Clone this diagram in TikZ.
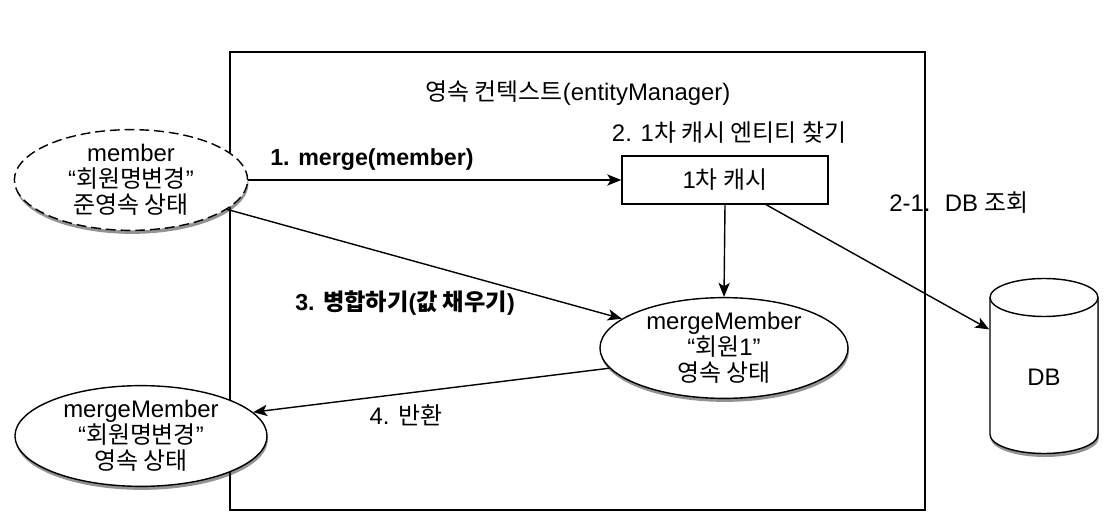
\documentclass[tikz,border=0pt]{standalone}
\usepackage{fontspec}
\setmainfont{Liberation Sans}
\newfontfamily\krfont{Noto Sans CJK KR}
\newcommand{\kr}[1]{{\krfont #1}}
\usetikzlibrary{arrows.meta,shapes.geometric,shadows}

\begin{document}
\begin{tikzpicture}[x=0.025cm, y=-0.025cm, line width=1pt,
  every node/.style={font=\fontsize{17}{18.5}\selectfont},
  boldlabel/.style={font=\fontsize{16.5}{18.5}\selectfont\bfseries},
  arr/.style={-{Stealth[length=10pt,width=8pt,inset=2.5pt]}},
  shadowed/.style={drop shadow={shadow xshift=0.6pt, shadow yshift=-2.5pt, fill=black!85}},
  state/.style={ellipse, draw, fill=white, align=center, inner sep=0pt, shadowed}]
\useasboundingbox (0,0) rectangle (1118,531);
\node[draw, line width=1.2pt, minimum width=17.375cm, minimum height=11.45cm] (ctx) at (577.5,281){};
\node (ctxlabel) at (578,93) {\kr{영속 컨텍스트}(entityManager)};
\node (findlabel) at (729,133) {2. 1\kr{차 캐시 엔티티 찾기}};
\node[draw, fill=white, minimum width=5.15cm, minimum height=1.2cm] (cache) at (725,180) {1\kr{차 캐시}};
\node[state, dash pattern=on 7pt off 3.5pt, minimum width=5.83cm, minimum height=2.4cm] (member) at (131,180) {member\\“\kr{회원명변경}”\\\kr{준영속 상태}};
\node[state, minimum width=6.2cm, minimum height=2.5cm] (merged) at (724,348) {mergeMember\\“\kr{회원}1”\\\kr{영속 상태}};
\node[state, minimum width=6.3cm, minimum height=2.45cm] (result) at (141,436) {mergeMember\\“\kr{회원명변경}”\\\kr{영속 상태}};
% DB cylinder
\draw[fill=white, shadowed] (990,297.5) -- (990,434.5) arc[start angle=180, end angle=0, x radius=54, y radius=19]
  -- (1098,297.5) arc[start angle=0, end angle=-180, x radius=54, y radius=19] -- cycle;
\draw (990,297.5) arc[start angle=180, end angle=0, x radius=54, y radius=19];
\node[minimum width=2.7cm, minimum height=4.375cm] (db) at (1044,377) {DB};
\draw[arr] (member) -- (cache);
\draw[arr] (member.-17) -- (merged.164);
\draw[arr] (cache.south) -- (merged.north);
\draw[arr] (cache.-31) -- (db.139);
\draw[arr] (merged.190) -- (result.12);
\node[boldlabel] (mergelabel) at (372,160) {1. merge(member)};
\node[boldlabel] (filllabel) at (405,303) {3. \kr{병합하기}(\kr{값 채우기})};
\node (returnlabel) at (406,415) {4. \kr{반환}};
\node (dblabel) at (959,203) {2-1.\hspace{0.6em}DB \kr{조회}};
\end{tikzpicture}
\end{document}
